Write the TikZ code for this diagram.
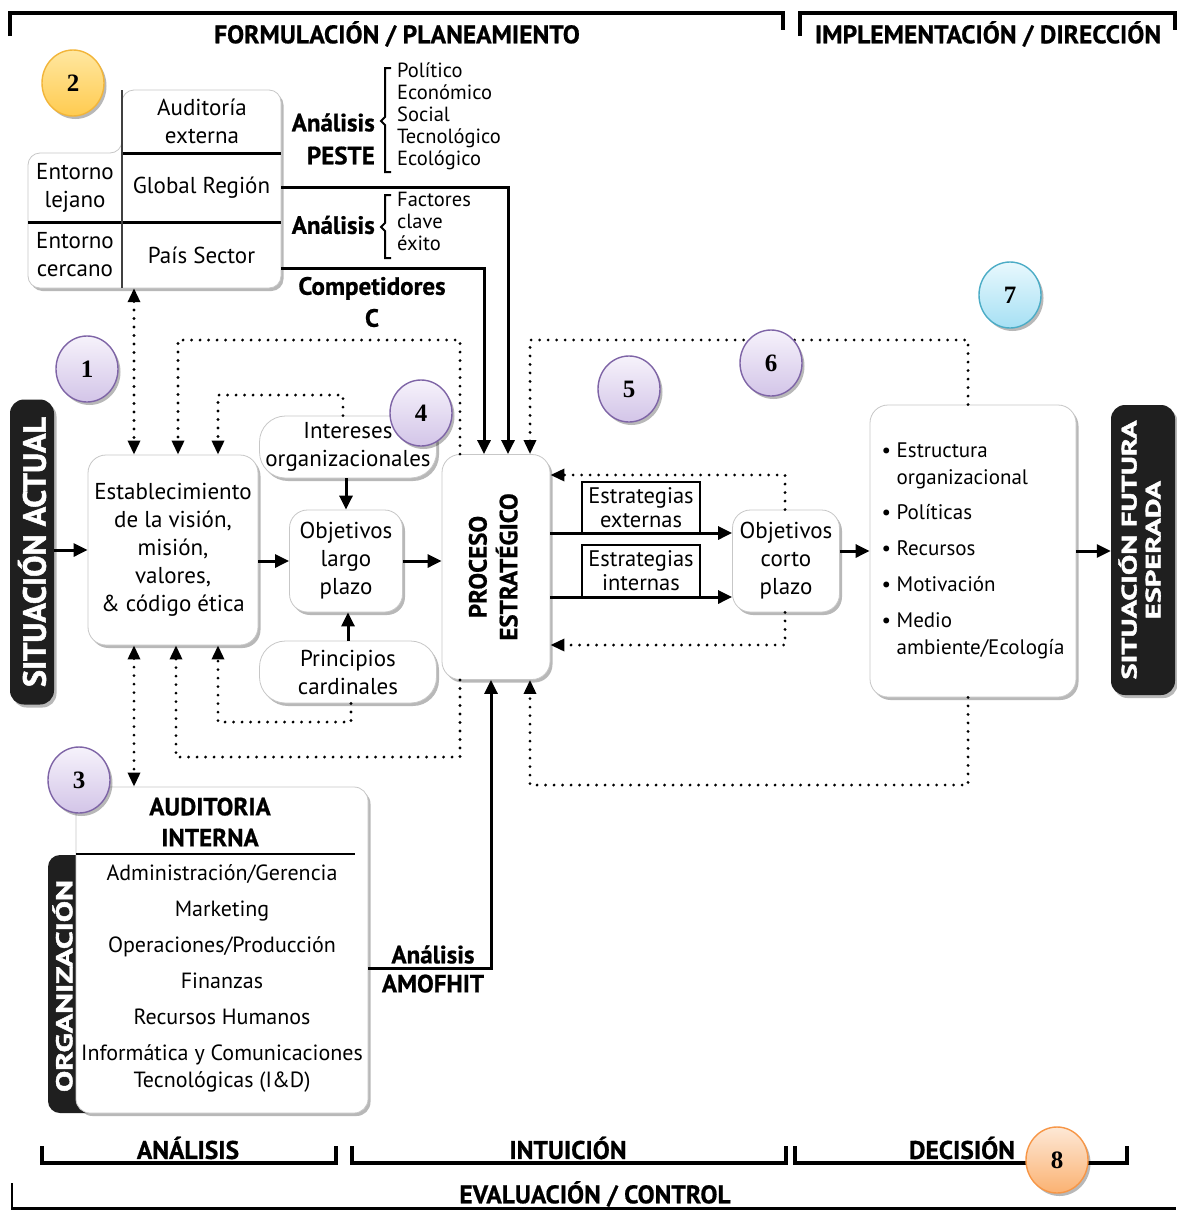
\documentclass[tikz,border=0pt]{standalone}
\usepackage{fontspec}
\setmainfont{PT Sans}
\newfontfamily\numfont{Liberation Serif}
\newfontfamily\heavyfont[BoldFeatures={FakeBold=1.6}]{PT Sans}
\newfontfamily\boldfont[BoldFeatures={FakeBold=0.7}]{PT Sans}
\usetikzlibrary{arrows.meta,shadows,shapes.geometric}
\definecolor{purB}{HTML}{7E64A6}
\definecolor{purT}{HTML}{F6F2FB}
\definecolor{purM}{HTML}{D3C5E8}
\definecolor{yelB}{HTML}{F2B539}
\definecolor{yelT}{HTML}{FFE7A0}
\definecolor{yelM}{HTML}{FFCB50}
\definecolor{bluB}{HTML}{4BACC6}
\definecolor{bluT}{HTML}{E8F8FD}
\definecolor{bluM}{HTML}{A6E0F4}
\definecolor{ornB}{HTML}{F79646}
\definecolor{ornT}{HTML}{FDE8D6}
\definecolor{ornM}{HTML}{FBB272}
\begin{document}
\begin{tikzpicture}[x=1pt,y=-1pt,
 txt/.style={font=\fontsize{23}{28}\selectfont, align=center, inner sep=0pt},
 sm/.style={font=\fontsize{20.5}{22}\selectfont, align=left, inner sep=0pt},
 bl/.style={font=\fontsize{25}{31}\selectfont\boldfont\bfseries, align=center, inner sep=0pt},
 hdr/.style={font=\fontsize{25.5}{27}\selectfont\boldfont\bfseries, inner sep=0pt},
 sh/.style={drop shadow={shadow xshift=2.5pt, shadow yshift=-3pt, opacity=0.28, fill=black}},
 softbox/.style={txt, draw=black!22, line width=0.8pt, fill=white, rounded corners=18pt, sh},
 pill/.style={softbox, rounded corners=26pt},
 blk/.style={fill=black!88, text=white, rounded corners=14pt, inner sep=0pt, sh},
 lbl/.style={txt, draw=black, line width=1.2pt, fill=white, font=\fontsize{22.5}{24}\selectfont},
 num/.style={ellipse, minimum width=62pt, minimum height=66pt, line width=1.4pt, font=\numfont\bfseries\fontsize{25}{25}\selectfont, inner sep=0pt, sh},
 pur/.style={num, draw=purB, top color=purT, bottom color=purM},
 yel/.style={num, draw=yelB, top color=yelT, bottom color=yelM},
 blu/.style={num, draw=bluB, top color=bluT, bottom color=bluM},
 orn/.style={num, draw=ornB, top color=ornT, bottom color=ornM},
 brk/.style={line width=3.5pt},
 arr/.style={line width=3pt, -{Triangle[length=14pt,width=13pt]}},
 dotl/.style={line width=3.2pt, dash pattern=on 0pt off 8.5pt, line cap=round},
 darr/.style={dotl, -{Triangle[length=14pt,width=12pt]}},
 ddarr/.style={dotl, {Triangle[length=14pt,width=12pt]}-{Triangle[length=14pt,width=12pt]}}
]
\useasboundingbox (0,0) rectangle (1176,1210);
\fill[white] (0,0) rectangle (1176,1210);

% coordinates
\coordinate (xa) at (134,0);
\coordinate (xb) at (178,0);
\coordinate (xc) at (218,0);
\coordinate (xd) at (176,0);
\coordinate (xp1) at (460,0);
\coordinate (xp2) at (530,0);
\coordinate (xe) at (968,0);
\coordinate (xco) at (785,0);
\coordinate (xg) at (508,0);
\coordinate (xpp) at (484,0);
\coordinate (xam) at (491,0);
\coordinate (xint) at (343,0);
\coordinate (xpr) at (351,0);
\coordinate (ytop) at (0,340);
\coordinate (yi) at (0,395);
\coordinate (yb1) at (0,757);
\coordinate (yb2) at (0,722);
\coordinate (yb3) at (0,785);
\coordinate (yc1) at (0,475);
\coordinate (yc2) at (0,645);
\coordinate (ys1) at (0,533);
\coordinate (ys2) at (0,597);
\coordinate (yP) at (0,268);
\coordinate (yam) at (0,968);

% headers and brackets
\draw[brk] (10,36) -- (10,13) -- (783,13) -- (783,30);
\draw[brk] (800,36) -- (800,13) -- (1175,13) -- (1175,30);
\node[hdr] (tF) at (397,34) {FORMULACIÓN / PLANEAMIENTO};
\node[hdr] (tI) at (988,34) {IMPLEMENTACIÓN / DIRECCIÓN};
\draw[brk] (42,1146) -- (42,1163) -- (336,1163) -- (336,1146);
\draw[brk] (352,1146) -- (352,1163) -- (786,1163) -- (786,1146);
\draw[brk] (795,1146) -- (795,1163) -- (1127,1163) -- (1127,1146);
\draw[line width=2.5pt] (12,1183) -- (12,1208.5) -- (1176,1208.5);
\node[hdr] (tA) at (188,1148) {ANÁLISIS};
\node[hdr] (tN) at (568,1148) {INTUICIÓN};
\node[hdr] (tD) at (962,1148) {DECISIÓN};
\node[hdr] (tE) at (595,1194) {EVALUACIÓN / CONTROL};

% external audit composite
\draw[fill=white, draw=black!22, line width=0.8pt, rounded corners=12pt, sh] (122,90) -- (281,90) -- (281,288) -- (28,288) -- (28,153) -- (122,153) -- cycle;
\draw[line width=3pt] (122,153) -- (281,153);
\draw[line width=3pt] (28,222) -- (281,222);
\draw[line width=1.6pt, black!75] (122,90) -- (122,288);
\node[txt] (extA) at (202,121) {Auditoría\\externa};
\node[txt, minimum width=159pt, minimum height=69pt] (extG) at (201.5,187.5) {Global Región};
\node[txt, minimum width=159pt, minimum height=66pt] (extP) at (201.5,255) {País Sector};
\node[txt] (extL) at (75,188) {Entorno\\lejano};
\node[txt] (extC) at (75,255) {Entorno\\cercano};

% PESTE
\node[bl, anchor=east, align=right, font=\fontsize{25}{33}\selectfont\boldfont\bfseries] (aPE) at (375,139) {Análisis\\PESTE};
\draw[line width=2pt] (391,68) -- (385,68) -- (385,117) -- (381,121) -- (385,125) -- (385,172) -- (391,172);
\node[sm, anchor=north west] (peI) at (397,63) {Político\\Económico\\Social\\Tecnológico\\Ecológico};
\node[bl, anchor=east] (aFC) at (375,225) {Análisis};
\draw[line width=2pt] (391,195) -- (385,195) -- (385,223) -- (381,227) -- (385,231) -- (385,258) -- (391,258);
\node[sm, anchor=north west] (fcI) at (397,192) {Factores\\clave\\éxito};
\node[bl, font=\fontsize{25}{32}\selectfont\boldfont\bfseries] (comp) at (372,302) {Competidores\\C};

% main boxes
\node[blk, minimum width=44pt, minimum height=305pt] (sa) at (32,552) {\rotatebox{90}{\resizebox{270pt}{!}{\heavyfont\bfseries SITUACIÓN ACTUAL}}};
\node[softbox, minimum width=170pt, minimum height=190pt] (estab) at (173,550) {Establecimiento\\de la visión,\\misión,\\valores,\\\& código ética};
\node[pill, minimum width=177pt, minimum height=62pt] (inter) at (348,447) {Intereses\\organizacionales};
\node[softbox, minimum width=113pt, minimum height=102pt] (largo) at (346,561) {Objetivos\\largo\\plazo};
\node[pill, minimum width=177pt, minimum height=62pt] (princ) at (348,672) {Principios\\cardinales};
\node[softbox, minimum width=108pt, minimum height=225pt] (proc) at (496,567) {\rotatebox{90}{\fontsize{25}{30}\selectfont\boldfont\bfseries\begin{tabular}{@{}c@{}}PROCESO\\ESTRATÉGICO\end{tabular}}};
\node[softbox, minimum width=107pt, minimum height=102pt] (corto) at (786,561) {Objetivos\\corto\\plazo};
\node[softbox, minimum width=206pt, minimum height=292pt, align=left, font=\fontsize{21}{27}\selectfont] (estr) at (973,551) {\textbullet\ Estructura\\\hphantom{\textbullet\ }organizacional\\[8pt]\textbullet\ Políticas\\[9pt]\textbullet\ Recursos\\[9pt]\textbullet\ Motivación\\[9pt]\textbullet\ Medio\\\hphantom{\textbullet\ }ambiente/Ecología};
\node[blk, minimum width=64pt, minimum height=290pt] (sf) at (1143,550) {\rotatebox{90}{\scalebox{1.45}[1]{\fontsize{21}{24}\selectfont\heavyfont\bfseries\begin{tabular}{@{}c@{}}SITUACIÓN FUTURA\\ESPERADA\end{tabular}}}};

% strategy labels
\node[lbl, minimum width=118pt, minimum height=51pt] (ee) at (641,507.5) {Estrategias\\externas};
\node[lbl, minimum width=118pt, minimum height=52pt] (ei) at (641,571) {Estrategias\\internas};

% internal audit
\fill[black!88, rounded corners=12pt] (48,855) rectangle (100,1113);
\node[softbox, rounded corners=14pt, minimum width=292pt, minimum height=326pt] (audint) at (222,950) {};
\node[bl] (audT) at (210,822) {AUDITORIA\\INTERNA};
\draw[line width=2pt] (76,854) -- (355,854);
\node[txt, font=\fontsize{22}{27}\selectfont] (audI) at (222,978) {Administración/Gerencia\\[9pt]Marketing\\[9pt]Operaciones/Producción\\[9pt]Finanzas\\[9pt]Recursos Humanos\\[9pt]Informática y Comunicaciones\\Tecnológicas (I\&D)};
\node[text=white, inner sep=0pt] (orgtx) at (62.5,986) {\rotatebox{90}{\resizebox{212pt}{20pt}{\heavyfont\bfseries ORGANIZACIÓN}}};
\node[bl, font=\fontsize{25}{29}\selectfont\boldfont\bfseries] (amo) at (433,969) {Análisis\\AMOFHIT};

% solid connectors
\draw[arr] (sa.east |- estab.west) -- (estab.west);
\draw[arr] (estab.east |- largo.west) -- (largo.west);
\draw[arr] (largo.east) -- (proc.west |- largo.east);
\draw[arr] (inter.south -| largo.north) -- (largo.north);
\draw[arr] (princ.north) -- (largo.south -| princ.north);
\draw[arr] (extG.east) -| (proc.north -| xg);
\draw[arr] (extP.east |- yP) -| (proc.north -| xpp);
\draw[arr] (audint.east |- yam) -| (proc.south -| xam);
\draw[arr] (proc.east |- ys1) -- (corto.west |- ys1);
\draw[arr] (proc.east |- ys2) -- (corto.west |- ys2);
\draw[arr] (corto.east |- estr.west) -- (estr.west);
\draw[arr] (estr.east) -- (sf.west |- estr.east);

% dotted connectors
\draw[ddarr] (extP.south -| xa) -- (estab.north -| xa);
\draw[ddarr] (estab.south -| xa) -- (audint.north -| xa);
\draw[darr] (proc.north -| xp1) |- (ytop -| xb) -- (estab.north -| xb);
\draw[darr] (inter.north -| xint) |- (yi -| xc) -- (estab.north -| xc);
\draw[darr] (proc.south -| xp1) |- (yb1 -| xd) -- (estab.south -| xd);
\draw[darr] (princ.south -| xpr) |- (yb2 -| xc) -- (estab.south -| xc);
\draw[darr] (estr.north -| xe) |- (ytop -| xp2) -- (proc.north -| xp2);
\draw[darr] (estr.south -| xe) |- (yb3 -| xp2) -- (proc.south -| xp2);
\draw[darr] (corto.north -| xco) |- (proc.east |- yc1);
\draw[darr] (corto.south -| xco) |- (proc.east |- yc2);

% numbered circles
\node[yel] (n2) at (73,83) {2};
\node[pur] (n1) at (87,369) {1};
\node[pur] (n3) at (79,780) {3};
\node[pur] (n4) at (421,413) {4};
\node[pur] (n5) at (629,389) {5};
\node[pur] (n6) at (771,363) {6};
\node[blu] (n7) at (1010,295) {7};
\node[orn] (n8) at (1057,1160) {8};
\end{tikzpicture}
\end{document}
